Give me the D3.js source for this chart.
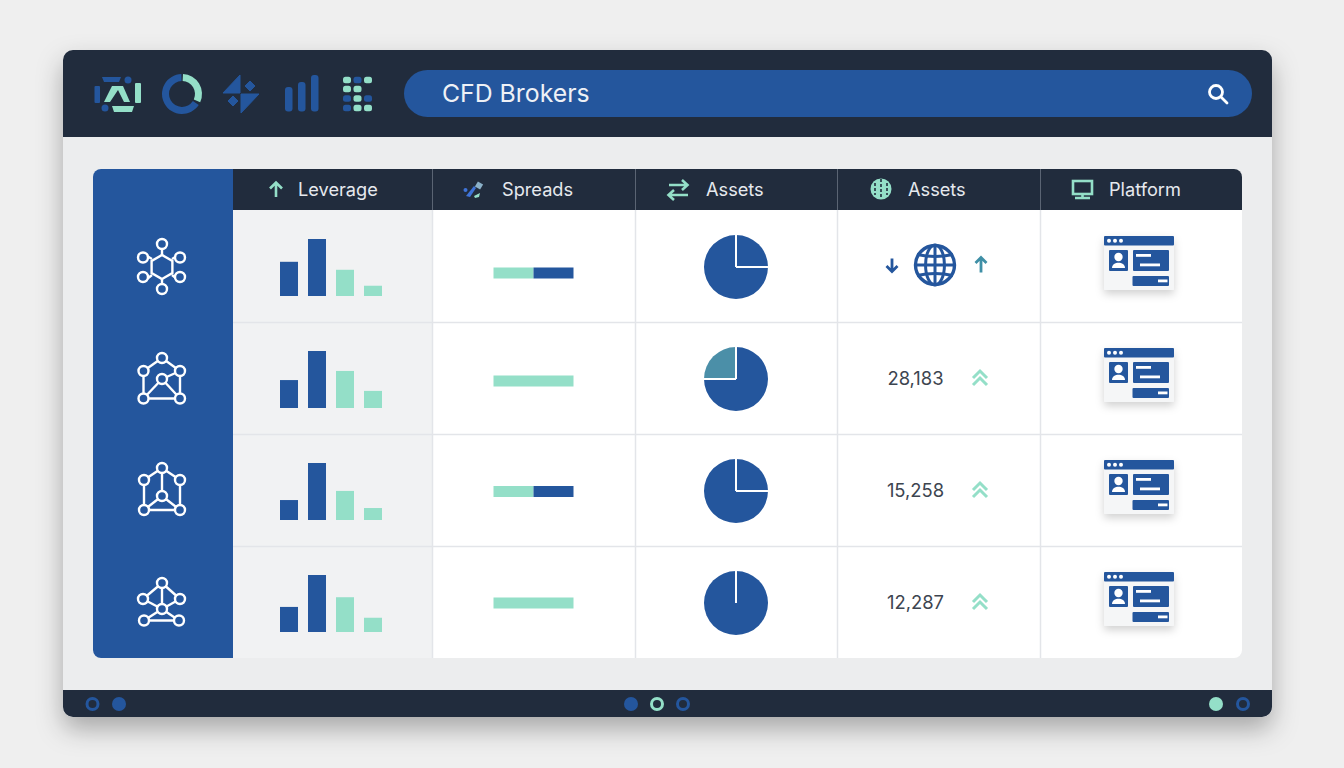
<!DOCTYPE html>
<html>
<head>
<meta charset="utf-8">
<title>CFD Brokers</title>
<script src="https://cdn.jsdelivr.net/npm/d3@7"></script>
<style>
  html, body { margin: 0; padding: 0; background: #efefef; }
  svg { display: block; font-family: Inter, "Noto Sans", sans-serif; }
</style>
</head>
<body>
<div id="chart"></div>
<script>
// Chart values
const title = "CFD Brokers";
const columns = ["Leverage", "Spreads", "Assets", "Assets", "Platform"];
const rowKeys = ["hex", "mesh", "cube", "star"];
const barKeys = ["a", "b", "c", "d"];
const leverage = [
  [60, 100, 46, 18],
  [49, 100, 65, 30],
  [35, 100, 51, 21],
  [44, 100, 61, 25]
];
const spreadMint = [50, 100, 50, 100];
const spreadBlue = [50, 0, 50, 0];
const pieShare = [25, 25, 25, 0];
const pieStartDeg = [0, 270, 0, 0];
const assetCounts = [null, "28,183", "15,258", "12,287"];

const blue = "#24569d", dark = "#212c3d", mint = "#94dfc8", teal = "#4b8fa8", grid = "#e3e5e9";

const W = 1344, H = 768;
const svg = d3.select("#chart").append("svg").attr("width", W).attr("height", H);
const defs = svg.append("defs");

const shadow = defs.append("filter").attr("id", "panel-shadow")
  .attr("x", "-10%").attr("y", "-10%").attr("width", "120%").attr("height", "125%");
shadow.append("feDropShadow").attr("dx", 0).attr("dy", 12).attr("stdDeviation", 13)
  .attr("flood-color", "#000").attr("flood-opacity", 0.3);
const cardShadow = defs.append("filter").attr("id", "card-shadow")
  .attr("x", "-30%").attr("y", "-30%").attr("width", "160%").attr("height", "170%");
cardShadow.append("feDropShadow").attr("dx", 0).attr("dy", 4).attr("stdDeviation", 4.5)
  .attr("flood-color", "#000").attr("flood-opacity", 0.18);

defs.append("clipPath").attr("id", "panel-clip").append("rect")
  .attr("x", 63).attr("y", 50).attr("width", 1209).attr("height", 667).attr("rx", 10);
defs.append("clipPath").attr("id", "table-clip").append("rect")
  .attr("x", 93).attr("y", 169).attr("width", 1149).attr("height", 489).attr("rx", 8);

// Panel
svg.append("rect").attr("x", 63).attr("y", 50).attr("width", 1209).attr("height", 667).attr("rx", 10)
  .attr("fill", "#ecedee").attr("filter", "url(#panel-shadow)");
const panel = svg.append("g").attr("clip-path", "url(#panel-clip)");
panel.append("rect").attr("x", 63).attr("y", 50).attr("width", 1209).attr("height", 87).attr("fill", dark);
panel.append("rect").attr("x", 63).attr("y", 690).attr("width", 1209).attr("height", 27).attr("fill", dark);

drawToolbar(svg.append("g"));

// Search bar
svg.append("rect").attr("x", 404).attr("y", 70).attr("width", 848).attr("height", 47).attr("rx", 23.5).attr("fill", blue);
svg.append("text").attr("x", 442).attr("y", 102).attr("font-size", 24.8).attr("fill", "#eef1f6").text(title);
const search = svg.append("g").attr("fill", "none").attr("stroke", "#fff").attr("stroke-width", 2.8).attr("stroke-linecap", "round");
search.append("circle").attr("cx", 1216).attr("cy", 92).attr("r", 6.5);
search.append("path").attr("d", "M1221 97L1227 103");

// Table
const table = svg.append("g").attr("clip-path", "url(#table-clip)");
const colEdges = [233, 432.5, 635.5, 837.5, 1040.5, 1242];
const rowY = d3.scaleBand().domain(rowKeys).range([210, 658]);

table.append("rect").attr("x", 93).attr("y", 169).attr("width", 1149).attr("height", 489).attr("fill", "#fff");
table.append("rect").attr("x", 233).attr("y", 210).attr("width", 199).attr("height", 448).attr("fill", "#f1f2f3");
table.append("rect").attr("x", 93).attr("y", 169).attr("width", 140).attr("height", 489).attr("fill", blue);
table.append("rect").attr("x", 233).attr("y", 169).attr("width", 1009).attr("height", 41).attr("fill", dark);

// grid lines
rowKeys.slice(1).forEach(k => {
  table.append("line").attr("x1", 233).attr("x2", 1242).attr("y1", rowY(k) + 0.5).attr("y2", rowY(k) + 0.5)
    .attr("stroke", grid).attr("stroke-width", 1.5);
});
colEdges.slice(1, 5).forEach(x => {
  table.append("line").attr("x1", x).attr("x2", x).attr("y1", 210).attr("y2", 658)
    .attr("stroke", grid).attr("stroke-width", 1.5);
  table.append("line").attr("x1", x).attr("x2", x).attr("y1", 169).attr("y2", 210)
    .attr("stroke", "#5a6473").attr("stroke-width", 1);
});

// column headers
const headerX = [298, 502, 706, 908, 1109];
columns.forEach((c, i) => {
  table.append("text").attr("x", headerX[i]).attr("y", 196).attr("font-size", 18.2)
    .attr("fill", "#e6e9ee").text(c);
});
drawHeaderIcons(svg.append("g"));

// Leverage bars
const barX = d3.scaleBand().domain(barKeys).range([280, 382]).paddingInner(0.357);
const barH = d3.scaleLinear().domain([0, 100]).range([0, 57]);
rowKeys.forEach((k, r) => {
  const base = rowY(k) + 86;
  svg.append("g").selectAll("rect").data(leverage[r]).join("rect")
    .attr("x", (d, i) => barX(barKeys[i]))
    .attr("width", barX.bandwidth())
    .attr("y", d => base - barH(d))
    .attr("height", d => barH(d))
    .attr("fill", (d, i) => i < 2 ? blue : mint);
});

// Spreads stacked bars
const spreadX = d3.scaleLinear().domain([0, 100]).range([493.5, 573.5]);
const spreadCy = [273, 381, 491.5, 603];
rowKeys.forEach((k, r) => {
  const g = svg.append("g");
  g.append("rect").attr("x", spreadX(0)).attr("y", spreadCy[r] - 5.5).attr("height", 11)
    .attr("width", spreadX(spreadMint[r]) - spreadX(0)).attr("fill", mint);
  if (spreadBlue[r] > 0) {
    g.append("rect").attr("x", spreadX(spreadMint[r])).attr("y", spreadCy[r] - 5.5).attr("height", 11)
      .attr("width", spreadX(spreadMint[r] + spreadBlue[r]) - spreadX(spreadMint[r])).attr("fill", blue);
  }
});

// Pies
const arc = d3.arc().innerRadius(0).outerRadius(32);
rowKeys.forEach((k, r) => {
  const start = pieStartDeg[r] * Math.PI / 180;
  const pie = d3.pie().sort(null).startAngle(start).endAngle(start + 2 * Math.PI);
  const slices = pie([pieShare[r], 100 - pieShare[r]]);
  const g = svg.append("g").attr("transform", `translate(736,${rowY(k) + 57})`);
  g.selectAll("path").data(slices).join("path")
    .attr("d", arc)
    .attr("fill", (d, i) => (i === 0 && r === 1) ? teal : blue);
  g.selectAll("line").data(slices).join("line")
    .attr("x2", d => 33 * Math.sin(d.startAngle))
    .attr("y2", d => -33 * Math.cos(d.startAngle))
    .attr("stroke", "#fff").attr("stroke-width", 2);
});

// Asset counts
rowKeys.forEach((k, r) => {
  const cy = rowY(k) + 56;
  if (assetCounts[r] === null) {
    drawArrow(svg, 892, cy - 1, 1, blue, 13);
    drawGlobe(svg, 935, cy - 1, 21);
    drawArrow(svg, 981, cy - 1, -1, "#3f8fa6", 15);
    return;
  }
  svg.append("text").attr("x", 915.5).attr("y", cy + 6.5).attr("text-anchor", "middle")
    .attr("font-size", 18.4).attr("fill", "#3d4550").text(assetCounts[r]);
  const ch = svg.append("g").attr("fill", "none").attr("stroke", mint).attr("stroke-width", 3);
  ch.append("path").attr("d", `M973 ${cy}L980 ${cy - 7}L987 ${cy}`);
  ch.append("path").attr("d", `M973 ${cy + 7}L980 ${cy}L987 ${cy + 7}`);
});

// Platform cards
rowKeys.forEach(k => drawCard(svg, 1104, rowY(k) + 26));

// Network icons in the blue column
const nodeSets = {
  hex: { nodes: [[0,-23],[-19,-9.5],[18,-9.5],[-19,10],[18,10],[0,22]], links: [[1,3,0]] },
  mesh: { nodes: [[0,-21],[-18.5,-8],[18,-8],[-18.5,19.5],[18,19.5],[0,0]], links: [[0,1],[0,2],[1,3],[2,4],[3,4],[5,3],[5,4],[5,2]] },
  cube: { nodes: [[0,-22],[-18,-10],[18,-10],[-18,20],[18,20],[0,6]], links: [[0,1],[0,2],[1,3],[2,4],[3,4],[0,5],[5,3],[5,4]] },
  star: { nodes: [[0,-20],[-19,-4],[18,-4],[-18,17.5],[17,17.5],[0,6]], links: [[0,1],[0,2],[0,5],[1,5],[2,5],[5,3],[5,4],[3,4]] }
};
const iconCy = [267, 379, 490, 603];
rowKeys.forEach((k, r) => {
  const set = nodeSets[k];
  const g = svg.append("g").attr("transform", `translate(162,${iconCy[r]})`)
    .attr("stroke", "#fff").attr("stroke-width", 2.4).attr("fill", "none");
  if (k === "hex") {
    const hex = d3.range(6).map(i => [12 * Math.sin(i * Math.PI / 3), 12 * Math.cos(i * Math.PI / 3)]);
    g.append("path").attr("d", d3.line().curve(d3.curveLinearClosed)(hex));
    g.append("path").attr("d", "M0 -18V-12M-15 -11L-10 -8M15 -11L10 -8M-15 12L-10 8M15 12L10 8M0 17V12");
  } else {
    g.selectAll("line").data(set.links).join("line")
      .attr("x1", d => set.nodes[d[0]][0]).attr("y1", d => set.nodes[d[0]][1])
      .attr("x2", d => set.nodes[d[1]][0]).attr("y2", d => set.nodes[d[1]][1]);
  }
  g.selectAll("circle").data(set.nodes).join("circle")
    .attr("cx", d => d[0]).attr("cy", d => d[1]).attr("r", 5)
    .attr("fill", blue);
});

// Footer dots
const footerDots = [[92.5, "ring", blue], [119, "dot", blue], [631, "dot", blue], [657, "ring", mint],
  [683, "ring", blue], [1216, "dot", mint], [1243, "ring", blue]];
svg.append("g").selectAll("circle").data(footerDots).join("circle")
  .attr("cx", d => d[0]).attr("cy", 704)
  .attr("r", d => d[1] === "ring" ? 5.5 : 7)
  .attr("fill", d => d[1] === "ring" ? "none" : d[2])
  .attr("stroke", d => d[1] === "ring" ? d[2] : "none")
  .attr("stroke-width", 3);

function drawToolbar(g) {
  // first icon
  const box = (x, y, w, h, c, rx = 1) => g.append("rect").attr("x", x).attr("y", y).attr("width", w).attr("height", h).attr("rx", rx).attr("fill", c);
  g.append("path").attr("d", "M102 77H121L119 82H104Z").attr("fill", blue);
  g.append("circle").attr("cx", 128).attr("cy", 80).attr("r", 3.5).attr("fill", blue);
  box(94.5, 86, 5.5, 17, blue);
  box(135, 83, 6, 20, mint);
  g.append("circle").attr("cx", 105).attr("cy", 108).attr("r", 3.5).attr("fill", blue);
  g.append("path").attr("d", "M112 106H134L132 112H114Z").attr("fill", mint);
  g.append("path").attr("d", "M112 86H123L130 102H124L118 90L110 102H104Z").attr("fill", mint);

  // donut
  const donut = d3.arc().innerRadius(13).outerRadius(20);
  const d = g.append("g").attr("transform", "translate(182,94)");
  d.append("path").attr("d", donut({ startAngle: 0.05, endAngle: 2.0 })).attr("fill", mint);
  d.append("path").attr("d", donut({ startAngle: 2.15, endAngle: 6.25 })).attr("fill", blue);

  // split diamond
  g.append("path").attr("d", "M240 75V93H223Z M241 94H259L241 113Z M250 81L255 86L250 91L245 86Z M233 96L238 101L233 106L228 101Z")
    .attr("fill", blue).attr("stroke", blue).attr("stroke-width", 1).attr("stroke-linejoin", "round");

  // bars
  box(285, 87, 7.5, 24.5, blue, 3);
  box(298, 82, 7.5, 29.5, blue, 3);
  box(311, 75, 7.5, 36.5, blue, 3);

  // dot grid
  const gridColors = [[mint, blue, mint], [mint, mint, null], [blue, mint, blue], [blue, mint, mint]];
  const xs = [347, 357.5, 368], ys = [80, 89, 98.5, 108];
  gridColors.forEach((row, r) => row.forEach((c, i) => {
    if (c) box(xs[i] - 4, ys[r] - 3.2, 8, 6.4, c, 2.5);
  }));
}

function drawHeaderIcons(g) {
  // up arrow
  g.append("path").attr("d", "M276 197V183M270 188.5L276 182.5L282 188.5")
    .attr("fill", "none").attr("stroke", mint).attr("stroke-width", 2.6);

  // spreads
  g.append("path").attr("d", "M466 196L474 186L476 188L470 197Z").attr("fill", "#3f74d8");
  g.append("rect").attr("x", 476).attr("y", 182.5).attr("width", 6).attr("height", 6).attr("fill", "#8ab0c8").attr("transform", "rotate(30 479 185.5)");
  g.append("circle").attr("cx", 465.5).attr("cy", 190).attr("r", 2).attr("fill", "#3f74d8");
  g.append("path").attr("d", "M474 196L480 193L479 197L475 198Z").attr("fill", mint);

  // swap arrows
  const swap = g.append("g").attr("fill", "none").attr("stroke", mint).attr("stroke-width", 2.6);
  swap.append("path").attr("d", "M669 185H687M682 180L687.5 185L682 190");
  swap.append("path").attr("d", "M688 195H669M674 190L668.5 195L674 200");

  // mint globe
  g.append("circle").attr("cx", 881).attr("cy", 189).attr("r", 10.5).attr("fill", mint);
  g.append("path").attr("d", "M881 179V199M875 183V195M887 183V195")
    .attr("stroke", dark).attr("stroke-width", 1.6).attr("stroke-dasharray", "3 2");

  // monitor
  const mon = g.append("g").attr("fill", "none").attr("stroke", mint).attr("stroke-width", 2.6);
  mon.append("rect").attr("x", 1073).attr("y", 181).attr("width", 19).attr("height", 13);
  mon.append("path").attr("d", "M1082.5 194V198M1075 198H1090");
}

function drawArrow(g, x, y, dir, color, len) {
  const half = len / 2;
  g.append("path")
    .attr("d", `M${x} ${y - dir * half}V${y + dir * half}M${x - 5.5} ${y + dir * (half - 5.5)}L${x} ${y + dir * half}L${x + 5.5} ${y + dir * (half - 5.5)}`)
    .attr("fill", "none").attr("stroke", color).attr("stroke-width", 2.8);
}

function drawGlobe(g, cx, cy, r) {
  const gl = g.append("g").attr("transform", `translate(${cx},${cy})`).attr("fill", "none").attr("stroke", blue).attr("stroke-width", 3);
  gl.append("circle").attr("r", r - 1.5).attr("stroke-width", 3.4);
  gl.append("ellipse").attr("rx", r * 0.45).attr("ry", r - 1);
  gl.append("path").attr("d", `M0 ${-r}V${r}M${-r} 0H${r}`);
  gl.append("path").attr("d", `M${-r * 0.85} ${-r * 0.5}Q0 ${-r * 0.3} ${r * 0.85} ${-r * 0.5}M${-r * 0.85} ${r * 0.5}Q0 ${r * 0.3} ${r * 0.85} ${r * 0.5}`);
}

function drawCard(g, x, y) {
  const c = g.append("g").attr("transform", `translate(${x},${y})`);
  c.append("rect").attr("width", 70).attr("height", 54).attr("rx", 1.5).attr("fill", "#f5f6f7").attr("filter", "url(#card-shadow)");
  c.append("rect").attr("width", 70).attr("height", 9.5).attr("rx", 1).attr("fill", blue);
  [5, 11, 17].forEach(cx => c.append("circle").attr("cx", cx).attr("cy", 4.7).attr("r", 2).attr("fill", "#fff"));
  c.append("rect").attr("x", 5).attr("y", 14).attr("width", 19).attr("height", 21).attr("rx", 1).attr("fill", blue);
  c.append("circle").attr("cx", 14.5).attr("cy", 21).attr("r", 4.2).attr("fill", "#fff");
  c.append("path").attr("d", "M8 32C8 25 21 25 21 32Z").attr("fill", "#fff");
  c.append("rect").attr("x", 29).attr("y", 14).attr("width", 36).attr("height", 21).attr("rx", 1).attr("fill", blue);
  c.append("rect").attr("x", 32).attr("y", 18).attr("width", 15).attr("height", 2.8).attr("fill", "#fff");
  c.append("rect").attr("x", 36).attr("y", 27.5).attr("width", 20).attr("height", 2.8).attr("fill", "#fff");
  c.append("rect").attr("x", 28.5).attr("y", 40).attr("width", 36.5).attr("height", 10).attr("rx", 1).attr("fill", blue);
  c.append("rect").attr("x", 54).attr("y", 43.5).attr("width", 9.5).attr("height", 2.8).attr("fill", "#fff");
}
</script>
</body>
</html>
